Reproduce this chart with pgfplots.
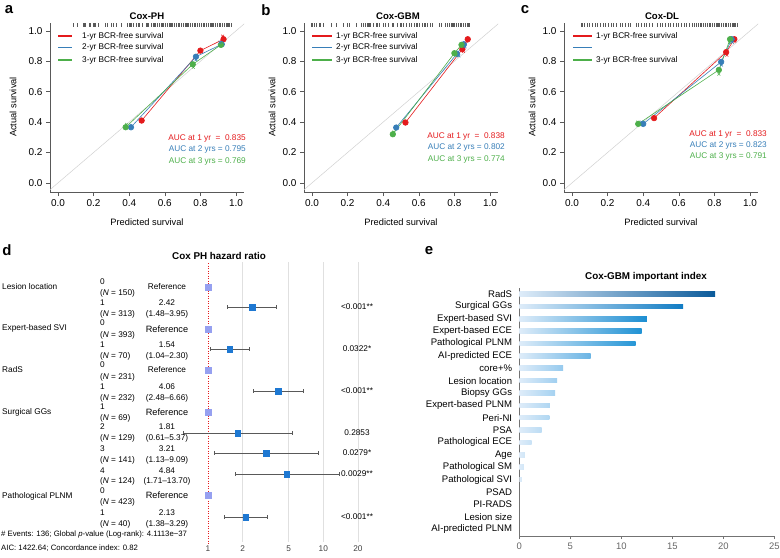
\documentclass[border=0pt]{standalone}
\usepackage{pgfplots}
\pgfplotsset{compat=1.18}
\usepackage{fontspec}
\setmainfont{Liberation Sans}
\definecolor{c1}{HTML}{E41A1C}
\definecolor{c2}{HTML}{377EB8}
\definecolor{c3}{HTML}{4DAF4A}
\definecolor{refc}{RGB}{150,160,240}
\definecolor{estc}{HTML}{1E78D2}
\definecolor{e0}{RGB}{222,236,249}
\newcommand{\fs}[1]{\fontsize{#1}{#1}\selectfont}
\pgfplotsset{
 calib/.style={anchor=south west, scale only axis, width=194bp, height=169.5bp,
  xmin=-0.045, xmax=1.045, ymin=-0.06, ymax=1.055,
  axis x line*=bottom, axis y line*=left, tick align=outside, major tick length=4bp,
  axis line style={-, black!65, line width=0.6bp}, tick style={black!65, line width=0.6bp},
  xtick={0,0.2,0.4,0.6,0.8,1}, ytick={0,0.2,0.4,0.6,0.8,1},
  xticklabels={0.0,0.2,0.4,0.6,0.8,1.0}, yticklabels={0.0,0.2,0.4,0.6,0.8,1.0},
  ticklabel style={font=\fs{10}}, clip=true},
 rug/.style={only marks, mark=|, mark size=2bp, black!65, mark options={line width=1.1bp}, forget plot},
 ser/.style={#1, line width=0.6bp, mark=*, mark size=2.8bp, mark options={solid}},
 xm/.style={only marks, #1, mark=x, mark size=2bp, mark options={line width=0.5bp}},
 diag/.style={black!18, line width=0.5bp, forget plot},
 ci/.style={black!65, line width=0.7bp, mark=|, mark size=1.7bp, mark options={line width=0.7bp}},
}
\begin{document}
\begin{tikzpicture}
\path[use as bounding box] (0,0) rectangle (780bp,-558bp);

% ---------------- panel a ----------------
\begin{axis}[calib, at={(50bp,-192bp)}]
\addplot[diag] coordinates {(-0.2,-0.2) (1.2,1.2)};
\addplot[rug] coordinates {(0.086,1.037) (0.108,1.037) (0.146,1.037) (0.155,1.037) (0.18,1.037) (0.202,1.037) (0.212,1.037) (0.227,1.037) (0.266,1.037) (0.277,1.037) (0.30,1.037) (0.311,1.037) (0.33,1.037) (0.358,1.037) (0.39,1.037) (0.40,1.037) (0.41,1.037) (0.425,1.037) (0.44,1.037) (0.45,1.037) (0.46,1.037) (0.475,1.037) (0.50,1.037) (0.51,1.037) (0.526,1.037) (0.535,1.037) (0.545,1.037) (0.56,1.037) (0.57,1.037) (0.58,1.037) (0.59,1.037) (0.605,1.037) (0.615,1.037) (0.625,1.037) (0.635,1.037) (0.645,1.037) (0.655,1.037) (0.665,1.037) (0.675,1.037) (0.685,1.037) (0.695,1.037) (0.705,1.037) (0.715,1.037) (0.725,1.037) (0.735,1.037) (0.745,1.037) (0.755,1.037) (0.765,1.037) (0.775,1.037) (0.785,1.037) (0.795,1.037) (0.805,1.037) (0.815,1.037) (0.825,1.037) (0.835,1.037) (0.845,1.037) (0.855,1.037) (0.865,1.037) (0.875,1.037) (0.885,1.037) (0.895,1.037) (0.905,1.037) (0.915,1.037) (0.925,1.037) (0.935,1.037) (0.945,1.037) (0.955,1.037) (0.965,1.037) (0.975,1.037)};
\addplot[ser=c1] coordinates {(0.47,0.41) (0.80,0.87) (0.93,0.945)};
\addplot[ser=c2] coordinates {(0.41,0.366) (0.775,0.83) (0.92,0.912)};
\addplot[ser=c3] coordinates {(0.38,0.366) (0.757,0.78) (0.915,0.908)};
\addplot[xm=c1] coordinates {(0.925,0.965)};
\addplot[xm=c2] coordinates {(0.91,0.925) (0.775,0.81)};
\addplot[xm=c3] coordinates {(0.385,0.385) (0.76,0.76)};
\end{axis}
\node[font=\fs{15}\bfseries] at (9bp,-10bp) {a};
\node[font=\fs{9.6}\bfseries] at (147bp,-16bp) {Cox-PH};
\node[font=\fs{9.3}] at (147bp,-222bp) {Predicted survival};
\node[font=\fs{9.3}, rotate=90] at (13bp,-107bp) {Actual survival};
\draw[c1, line width=1.2bp] (58bp,-36bp) -- (72bp,-36bp);
\draw[c2, line width=1.2bp] (58bp,-47.5bp) -- (72bp,-47.5bp);
\draw[c3, line width=1.2bp] (58bp,-60bp) -- (72bp,-60bp);
\node[font=\fs{8.3}, anchor=west, inner sep=0pt] at (82bp,-36bp) {1-yr BCR-free survival};
\node[font=\fs{8.3}, anchor=west, inner sep=0pt] at (82bp,-47.5bp) {2-yr BCR-free survival};
\node[font=\fs{8.3}, anchor=west, inner sep=0pt] at (82bp,-60bp) {3-yr BCR-free survival};
\node[font=\fs{8.3}, anchor=east, inner sep=0pt, text=c1] at (246bp,-138bp) {AUC at 1 yr\ \ =\ \ 0.835};
\node[font=\fs{8.3}, anchor=east, inner sep=0pt, text=c2] at (246bp,-149.5bp) {AUC at 2 yrs = 0.795};
\node[font=\fs{8.3}, anchor=east, inner sep=0pt, text=c3] at (246bp,-161bp) {AUC at 3 yrs = 0.769};

% ---------------- panel b ----------------
\begin{axis}[calib, at={(304bp,-192bp)}]
\addplot[diag] coordinates {(-0.2,-0.2) (1.2,1.2)};
\addplot[rug] coordinates {(0.0,1.037) (0.012,1.037) (0.025,1.037) (0.045,1.037) (0.064,1.037) (0.11,1.037) (0.14,1.037) (0.175,1.037) (0.2,1.037) (0.21,1.037) (0.25,1.037) (0.278,1.037) (0.29,1.037) (0.30,1.037) (0.31,1.037) (0.32,1.037) (0.33,1.037) (0.345,1.037) (0.36,1.037) (0.37,1.037) (0.38,1.037) (0.40,1.037) (0.415,1.037) (0.43,1.037) (0.455,1.037) (0.48,1.037) (0.50,1.037) (0.515,1.037) (0.53,1.037) (0.547,1.037) (0.56,1.037) (0.575,1.037) (0.59,1.037) (0.605,1.037) (0.62,1.037) (0.635,1.037) (0.65,1.037) (0.665,1.037) (0.678,1.037) (0.715,1.037) (0.73,1.037) (0.752,1.037) (0.762,1.037) (0.772,1.037) (0.782,1.037) (0.792,1.037) (0.802,1.037) (0.812,1.037) (0.822,1.037) (0.832,1.037) (0.842,1.037) (0.852,1.037) (0.862,1.037) (0.872,1.037) (0.882,1.037)};
\addplot[ser=c1] coordinates {(0.525,0.397) (0.845,0.88) (0.875,0.945)};
\addplot[ser=c2] coordinates {(0.473,0.364) (0.814,0.849) (0.853,0.912)};
\addplot[ser=c3] coordinates {(0.454,0.32) (0.80,0.853) (0.84,0.908)};
\addplot[xm=c1] coordinates {(0.85,0.865) (0.87,0.93)};
\addplot[xm=c2] coordinates {(0.825,0.835) (0.86,0.895)};
\addplot[xm=c3] coordinates {(0.46,0.335) (0.81,0.84)};
\end{axis}
\node[font=\fs{15}\bfseries] at (266bp,-10bp) {b};
\node[font=\fs{9.6}\bfseries] at (398bp,-16bp) {Cox-GBM};
\node[font=\fs{9.3}] at (401bp,-222bp) {Predicted survival};
\node[font=\fs{9.3}, rotate=90] at (272bp,-107bp) {Actual survival};
\draw[c1, line width=1.2bp] (312bp,-36bp) -- (332bp,-36bp);
\draw[c2, line width=1.2bp] (312bp,-47.5bp) -- (332bp,-47.5bp);
\draw[c3, line width=1.2bp] (312bp,-60bp) -- (332bp,-60bp);
\node[font=\fs{8.3}, anchor=west, inner sep=0pt] at (336bp,-36bp) {1-yr BCR-free survival};
\node[font=\fs{8.3}, anchor=west, inner sep=0pt] at (336bp,-47.5bp) {2-yr BCR-free survival};
\node[font=\fs{8.3}, anchor=west, inner sep=0pt] at (336bp,-60bp) {3-yr BCR-free survival};
\node[font=\fs{8.3}, anchor=east, inner sep=0pt, text=c1] at (505bp,-136bp) {AUC at 1 yr\ \ =\ \ 0.838};
\node[font=\fs{8.3}, anchor=east, inner sep=0pt, text=c2] at (505bp,-147.5bp) {AUC at 2 yrs = 0.802};
\node[font=\fs{8.3}, anchor=east, inner sep=0pt, text=c3] at (505bp,-159bp) {AUC at 3 yrs = 0.774};

% ---------------- panel c ----------------
\begin{axis}[calib, at={(564bp,-192bp)}]
\addplot[diag] coordinates {(-0.2,-0.2) (1.2,1.2)};
\addplot[rug] coordinates {(0.056,1.037) (0.07,1.037) (0.085,1.037) (0.10,1.037) (0.115,1.037) (0.13,1.037) (0.145,1.037) (0.16,1.037) (0.175,1.037) (0.19,1.037) (0.205,1.037) (0.22,1.037) (0.235,1.037) (0.25,1.037) (0.27,1.037) (0.285,1.037) (0.30,1.037) (0.315,1.037) (0.33,1.037) (0.36,1.037) (0.375,1.037) (0.39,1.037) (0.405,1.037) (0.42,1.037) (0.435,1.037) (0.45,1.037) (0.48,1.037) (0.495,1.037) (0.51,1.037) (0.525,1.037) (0.54,1.037) (0.555,1.037) (0.57,1.037) (0.585,1.037) (0.60,1.037) (0.615,1.037) (0.63,1.037) (0.645,1.037) (0.66,1.037) (0.675,1.037) (0.69,1.037) (0.70,1.037) (0.71,1.037) (0.72,1.037) (0.73,1.037) (0.74,1.037) (0.75,1.037) (0.76,1.037) (0.77,1.037) (0.78,1.037) (0.79,1.037) (0.80,1.037) (0.81,1.037) (0.82,1.037) (0.83,1.037) (0.84,1.037) (0.85,1.037) (0.86,1.037) (0.87,1.037) (0.88,1.037) (0.89,1.037) (0.90,1.037) (0.91,1.037) (0.92,1.037) (0.93,1.037)};
\addplot[ser=c1] coordinates {(0.461,0.426) (0.866,0.86) (0.912,0.945)};
\addplot[ser=c2] coordinates {(0.40,0.388) (0.838,0.796) (0.897,0.945)};
\addplot[ser=c3] coordinates {(0.372,0.388) (0.825,0.743) (0.888,0.945)};
\addplot[xm=c1] coordinates {(0.87,0.84) (0.915,0.93)};
\addplot[xm=c2] coordinates {(0.84,0.775) (0.90,0.925) (0.39,0.40)};
\addplot[xm=c3] coordinates {(0.825,0.715) (0.885,0.925) (0.37,0.40)};
\end{axis}
\node[font=\fs{15}\bfseries] at (525bp,-10bp) {c};
\node[font=\fs{9.6}\bfseries] at (662bp,-16bp) {Cox-DL};
\node[font=\fs{9.3}] at (661bp,-222bp) {Predicted survival};
\node[font=\fs{9.3}, rotate=90] at (532bp,-107bp) {Actual survival};
\draw[c1, line width=1.2bp] (573bp,-36bp) -- (592bp,-36bp);
\draw[c2, line width=1.2bp] (573bp,-47.5bp) -- (592bp,-47.5bp);
\draw[c3, line width=1.2bp] (573bp,-60bp) -- (592bp,-60bp);
\node[font=\fs{8.3}, anchor=west, inner sep=0pt] at (596bp,-36bp) {1-yr BCR-free survival};
\node[font=\fs{8.3}, anchor=west, inner sep=0pt] at (596bp,-60bp) {3-yr BCR-free survival};
\node[font=\fs{8.3}, anchor=east, inner sep=0pt, text=c1] at (767bp,-134bp) {AUC at 1 yr\ \ =\ \ 0.833};
\node[font=\fs{8.3}, anchor=east, inner sep=0pt, text=c2] at (767bp,-145.5bp) {AUC at 2 yrs = 0.823};
\node[font=\fs{8.3}, anchor=east, inner sep=0pt, text=c3] at (767bp,-156.5bp) {AUC at 3 yrs = 0.791};

% ---------------- panel d ----------------
\begin{axis}[at={(160bp,-542bp)}, anchor=south west, scale only axis, width=220bp, height=280bp,
  xmode=log, xmin=0.3834, xmax=31.04, ymin=262, ymax=542, y dir=reverse,
  axis line style={draw=none}, major tick length=0pt, ytick=\empty,
  xtick={2,5,10,20}, xticklabels={2,5,10,20}, extra x ticks={1}, extra x tick labels={1},
  extra x tick style={grid=none},
  xticklabel style={font=\fs{8.3}, text=black!75}, xmajorgrids, grid style={black!12, line width=0.6bp},
  clip=false]
\addplot[c1, line width=0.6bp, dash pattern=on 1bp off 1.5bp] coordinates {(1,263) (1,545)};
\addplot[ci] coordinates {(1.48,307) (3.95,307)};
\addplot[ci] coordinates {(1.04,349) (2.30,349)};
\addplot[ci] coordinates {(2.48,391) (6.66,391)};
\addplot[ci] coordinates {(0.61,433) (5.37,433)};
\addplot[ci] coordinates {(1.13,453) (9.09,453)};
\addplot[ci] coordinates {(1.71,474) (13.70,474)};
\addplot[ci] coordinates {(1.38,517) (3.29,517)};
\addplot[refc, only marks, mark=square*, mark size=3.2bp, mark options={fill=refc, draw=none, xscale=0.85}] coordinates {(1,287) (1,329) (1,370) (1,412) (1,495)};
\addplot[estc, only marks, mark=square*, mark size=3.2bp, mark options={fill=estc, draw=none, xscale=0.85}] coordinates {(2.42,307) (1.54,349) (4.06,391) (1.81,433) (3.21,453) (4.84,474) (2.13,517)};
\end{axis}
\node[font=\fs{15}\bfseries] at (7bp,-250bp) {d};
\node[font=\fs{9.9}\bfseries] at (219bp,-256bp) {Cox PH hazard ratio};
\begin{scope}[every node/.style={font=\fs{8.3}, inner sep=0pt}]
\node[anchor=west] at (2bp,-287bp) {Lesion location};
\node[anchor=west] at (2bp,-328bp) {Expert-based SVI};
\node[anchor=west] at (2bp,-370bp) {RadS};
\node[anchor=west] at (2bp,-412bp) {Surgical GGs};
\node[anchor=west] at (2bp,-496bp) {Pathological PLNM};
% levels
\node[anchor=west] at (100bp,-282bp) {0};
\node[anchor=west] at (100bp,-293bp) {(\textit{N} = 150)};
\node[anchor=west] at (100bp,-303bp) {1};
\node[anchor=west] at (100bp,-314bp) {(\textit{N} = 313)};
\node[anchor=west] at (100bp,-323bp) {0};
\node[anchor=west] at (100bp,-335bp) {(\textit{N} = 393)};
\node[anchor=west] at (100bp,-345bp) {1};
\node[anchor=west] at (100bp,-356bp) {(\textit{N} = 70)};
\node[anchor=west] at (100bp,-365bp) {0};
\node[anchor=west] at (100bp,-377bp) {(\textit{N} = 231)};
\node[anchor=west] at (100bp,-387bp) {1};
\node[anchor=west] at (100bp,-398bp) {(\textit{N} = 232)};
\node[anchor=west] at (100bp,-407bp) {1};
\node[anchor=west] at (100bp,-418bp) {(\textit{N} = 69)};
\node[anchor=west] at (100bp,-427bp) {2};
\node[anchor=west] at (100bp,-438bp) {(\textit{N} = 129)};
\node[anchor=west] at (100bp,-449bp) {3};
\node[anchor=west] at (100bp,-460bp) {(\textit{N} = 141)};
\node[anchor=west] at (100bp,-471bp) {4};
\node[anchor=west] at (100bp,-481bp) {(\textit{N} = 124)};
\node[anchor=west] at (100bp,-491bp) {0};
\node[anchor=west] at (100bp,-502bp) {(\textit{N} = 423)};
\node[anchor=west] at (100bp,-513bp) {1};
\node[anchor=west] at (100bp,-524bp) {(\textit{N} = 40)};
% HR
\node at (167bp,-287bp) {Reference};
\node at (167bp,-303bp) {2.42};
\node at (167bp,-314bp) {(1.48--3.95)};
\node[font=\fs{9.2}] at (167bp,-329bp) {Reference};
\node at (167bp,-345bp) {1.54};
\node at (167bp,-356bp) {(1.04--2.30)};
\node at (167bp,-370bp) {Reference};
\node at (167bp,-387bp) {4.06};
\node at (167bp,-398bp) {(2.48--6.66)};
\node[font=\fs{9.2}] at (167bp,-412bp) {Reference};
\node at (167bp,-427bp) {1.81};
\node at (167bp,-438bp) {(0.61--5.37)};
\node at (167bp,-449bp) {3.21};
\node at (167bp,-460bp) {(1.13--9.09)};
\node at (167bp,-471bp) {4.84};
\node at (167bp,-481bp) {(1.71--13.70)};
\node[font=\fs{9.2}] at (167bp,-495bp) {Reference};
\node at (167bp,-513bp) {2.13};
\node at (167bp,-524bp) {(1.38--3.29)};
% p
\node at (357bp,-307bp) {<0.001**};
\node at (357bp,-349bp) {0.0322*};
\node at (357bp,-391bp) {<0.001**};
\node at (357bp,-433bp) {0.2853};
\node at (357bp,-453bp) {0.0279*};
\node at (357bp,-474bp) {0.0029**};
\node at (357bp,-517bp) {<0.001**};
\node[anchor=west, font=\fs{7.8}] at (1bp,-534bp) {\# Events: 136; Global \textit{p}-value (Log-rank): 4.1113e−37};
\node[anchor=west, font=\fs{7.8}] at (1bp,-548bp) {AIC: 1422.64; Concordance index: 0.82};
\end{scope}

% ---------------- panel e ----------------
\begin{axis}[at={(519.3bp,-536bp)}, anchor=south west, scale only axis, width=255bp, height=248bp,
  xmin=0, xmax=25, ymin=-0.485, ymax=19.56, y dir=reverse,
  xbar, bar width=4.5bp, bar shift=0pt,
  axis x line*=bottom, axis y line*=left,
  axis line style={-, black!55, line width=0.6bp},
  xtick={0,5,10,15,20,25}, xticklabels={0,5,10,15,20,25}, tick align=outside, major tick length=3bp,
  x tick style={black!55, line width=0.6bp}, y tick style={draw=none},
  xticklabel style={font=\fs{9.5}, text=black!60},
  ytick={0,...,19},
  yticklabels={RadS,Surgical GGs,Expert-based SVI,Expert-based ECE,Pathological PLNM,AI-predicted ECE,core+\%,Lesion location,Biopsy GGs,Expert-based PLNM,Peri-NI,PSA,Pathological ECE,Age,Pathological SM,Pathological SVI,PSAD,PI-RADS,Lesion size,AI-predicted PLNM},
  yticklabel style={font=\fs{9.6}, anchor=east, inner sep=0pt, xshift=-4bp},
  every axis plot/.append style={draw=none}]
\addplot[left color=e0, right color={rgb,255:red,10;green,90;blue,154}] coordinates {(19.2,0)};
\addplot[left color=e0, right color={rgb,255:red,16;green,124;blue,196}] coordinates {(16.05,1)};
\addplot[left color=e0, right color={rgb,255:red,28;green,142;blue,210}] coordinates {(12.5,2)};
\addplot[left color=e0, right color={rgb,255:red,32;green,146;blue,212}] coordinates {(12.0,3)};
\addplot[left color=e0, right color={rgb,255:red,38;green,150;blue,214}] coordinates {(11.4,4)};
\addplot[left color=e0, right color={rgb,255:red,106;green,180;blue,228}] coordinates {(7.0,5)};
\addplot[left color=e0, right color={rgb,255:red,150;green,202;blue,238}] coordinates {(4.3,6)};
\addplot[left color=e0, right color={rgb,255:red,160;green,207;blue,240}] coordinates {(3.7,7)};
\addplot[left color=e0, right color={rgb,255:red,165;green,210;blue,241}] coordinates {(3.5,8)};
\addplot[left color=e0, right color={rgb,255:red,175;green,214;blue,242}] coordinates {(3.0,9)};
\addplot[left color=e0, right color={rgb,255:red,176;green,215;blue,242}] coordinates {(2.95,10)};
\addplot[left color=e0, right color={rgb,255:red,188;green,220;blue,244}] coordinates {(2.2,11)};
\addplot[left color=e0, right color={rgb,255:red,200;green,226;blue,246}] coordinates {(1.2,12)};
\addplot[left color=e0, right color={rgb,255:red,208;green,230;blue,247}] coordinates {(0.55,13)};
\addplot[left color=e0, right color={rgb,255:red,210;green,231;blue,248}] coordinates {(0.45,14)};
\addplot[left color=e0, right color={rgb,255:red,214;green,233;blue,248}] coordinates {(0.25,15)};
\addplot[fill=none] coordinates {(0,16) (0,17) (0,18) (0,19)};
\end{axis}
\node[font=\fs{15}\bfseries] at (429bp,-251bp) {e};
\node[font=\fs{9.9}\bfseries] at (646bp,-277bp) {Cox-GBM important index};
\end{tikzpicture}
\end{document}
